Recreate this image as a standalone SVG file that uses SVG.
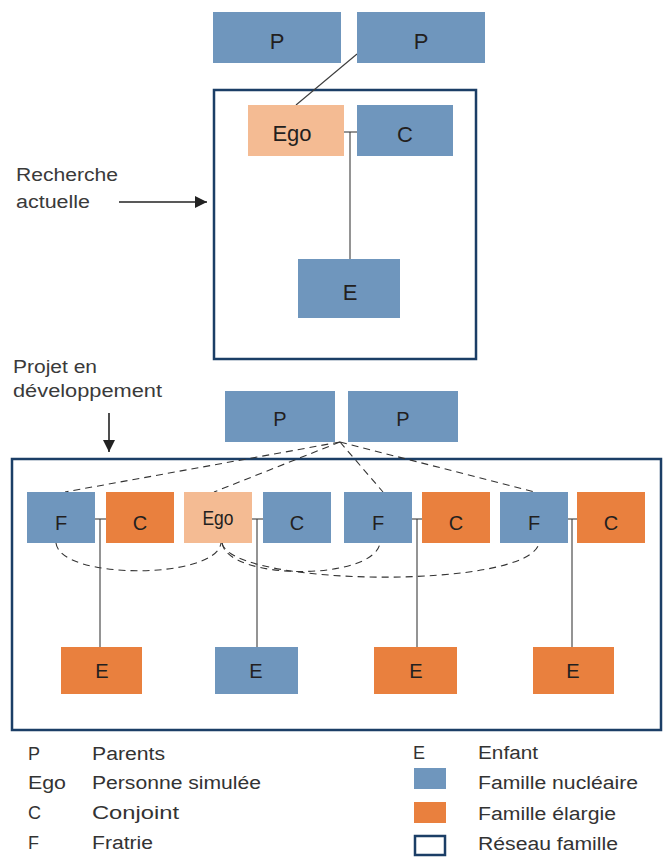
<svg xmlns="http://www.w3.org/2000/svg" width="667" height="857" viewBox="0 0 667 857">
  <style>
    .nuc { fill: #6f96bd; }
    .ext { fill: #e9803e; }
    .ego { fill: #f4bb93; }
    .frame { fill: none; stroke: #1b3e66; stroke-width: 2.5; }
    .lbl { font-family: "Liberation Sans", Arial, sans-serif; fill: #231f20; text-anchor: middle; }
    .big { font-size: 22px; }
    .mid { font-size: 20px; }
    .note { font-family: "Liberation Sans", Arial, sans-serif; font-size: 18px; fill: #3a3a3a; }
    .leg { font-family: "Liberation Sans", Arial, sans-serif; font-size: 18px; fill: #333333; }
    .link { fill: none; stroke: #3c3c3c; stroke-width: 1.1; }
    .dash { fill: none; stroke: #333333; stroke-width: 1.1; stroke-dasharray: 7 5; }
    .arrow { fill: none; stroke: #222222; stroke-width: 1.6; }
  </style>
  <defs>
    <marker id="head" viewBox="0 0 10 10" refX="10" refY="5" markerWidth="7.5" markerHeight="7.5" markerUnits="strokeWidth" orient="auto">
      <path d="M0,0 L10,5 L0,10 Z" fill="#222222"/>
    </marker>
  </defs>

  <!-- Upper scheme: current research -->
  <rect id="frame-current" class="frame" x="214" y="90" width="262" height="269"/>

  <g id="connectors-current">
    <line class="link" x1="357" y1="54" x2="296" y2="105"/>
    <line class="link" x1="344" y1="132" x2="357" y2="132"/>
    <line class="link" x1="350" y1="132" x2="350" y2="259"/>
  </g>

  <g id="p-top-1"><rect class="nuc" x="213" y="12" width="128" height="51"/><text class="lbl big" x="277" y="49">P</text></g>
  <g id="p-top-2"><rect class="nuc" x="357" y="12" width="128" height="51"/><text class="lbl big" x="421" y="49">P</text></g>
  <g id="ego-top"><rect class="ego" x="248" y="105" width="96" height="51"/><text class="lbl big" x="292" y="141">Ego</text></g>
  <g id="c-top"><rect class="nuc" x="357" y="105" width="96" height="51"/><text class="lbl big" x="405" y="142">C</text></g>
  <g id="e-top"><rect class="nuc" x="298" y="259" width="102" height="59"/><text class="lbl big" x="350" y="300">E</text></g>

  <g id="note-current">
    <text class="note" x="16" y="181" textLength="102" lengthAdjust="spacingAndGlyphs">Recherche</text>
    <text class="note" x="16" y="208" textLength="74" lengthAdjust="spacingAndGlyphs">actuelle</text>
    <line class="arrow" x1="119" y1="202" x2="207" y2="202" marker-end="url(#head)"/>
  </g>

  <!-- Lower scheme: project in development -->
  <rect id="frame-project" class="frame" x="12" y="459" width="649" height="271"/>

  <g id="note-project">
    <text class="note" x="13" y="373" textLength="84" lengthAdjust="spacingAndGlyphs">Projet en</text>
    <text class="note" x="13" y="397" textLength="149" lengthAdjust="spacingAndGlyphs">développement</text>
    <line class="arrow" x1="109" y1="413" x2="109" y2="452" marker-end="url(#head)"/>
  </g>

  <g id="connectors-project">
    <!-- sibling lines from the parents -->
    <line class="dash" x1="340" y1="442" x2="65" y2="492"/>
    <line class="dash" x1="340" y1="442" x2="214" y2="492"/>
    <line class="dash" x1="340" y1="442" x2="383" y2="492"/>
    <line class="dash" x1="340" y1="442" x2="535" y2="492"/>
    <!-- sibling arcs between Ego and the F nodes -->
    <path class="dash" d="M56,543 C60,580 216,580 221,543"/>
    <path class="dash" d="M222,543 C228,581 374,581 380,543"/>
    <path class="dash" d="M222,543 C232,587 530,590 539,543"/>
    <!-- couple links and children -->
    <line class="link" x1="95" y1="519" x2="106" y2="519"/>
    <line class="link" x1="100" y1="519" x2="100" y2="647"/>
    <line class="link" x1="252" y1="519" x2="263" y2="519"/>
    <line class="link" x1="257" y1="519" x2="257" y2="647"/>
    <line class="link" x1="412" y1="519" x2="422" y2="519"/>
    <line class="link" x1="417" y1="519" x2="417" y2="647"/>
    <line class="link" x1="568" y1="519" x2="577" y2="519"/>
    <line class="link" x1="572" y1="519" x2="572" y2="647"/>
  </g>

  <g id="p-bot-1"><rect class="nuc" x="225" y="391" width="110" height="51"/><text class="lbl mid" x="280" y="426">P</text></g>
  <g id="p-bot-2"><rect class="nuc" x="348" y="391" width="110" height="51"/><text class="lbl mid" x="403" y="426">P</text></g>

  <g id="f-1"><rect class="nuc" x="27" y="492" width="68" height="51"/><text class="lbl mid" x="61" y="530">F</text></g>
  <g id="c-1"><rect class="ext" x="106" y="492" width="68" height="51"/><text class="lbl mid" x="140" y="530">C</text></g>
  <g id="ego-bot"><rect class="ego" x="184" y="492" width="68" height="51"/><text class="lbl mid" x="218" y="525" textLength="31" lengthAdjust="spacingAndGlyphs">Ego</text></g>
  <g id="c-2"><rect class="nuc" x="263" y="492" width="68" height="51"/><text class="lbl mid" x="297" y="530">C</text></g>
  <g id="f-2"><rect class="nuc" x="344" y="492" width="68" height="51"/><text class="lbl mid" x="378" y="530">F</text></g>
  <g id="c-3"><rect class="ext" x="422" y="492" width="68" height="51"/><text class="lbl mid" x="456" y="530">C</text></g>
  <g id="f-3"><rect class="nuc" x="500" y="492" width="68" height="51"/><text class="lbl mid" x="534" y="530">F</text></g>
  <g id="c-4"><rect class="ext" x="577" y="492" width="68" height="51"/><text class="lbl mid" x="611" y="530">C</text></g>

  <g id="e-1"><rect class="ext" x="61" y="647" width="81" height="47"/><text class="lbl mid" x="102" y="678">E</text></g>
  <g id="e-2"><rect class="nuc" x="215" y="647" width="83" height="47"/><text class="lbl mid" x="256" y="678">E</text></g>
  <g id="e-3"><rect class="ext" x="374" y="647" width="83" height="47"/><text class="lbl mid" x="416" y="678">E</text></g>
  <g id="e-4"><rect class="ext" x="533" y="647" width="81" height="47"/><text class="lbl mid" x="573" y="678">E</text></g>

  <!-- Legend -->
  <g id="legend">
    <text class="leg" x="28" y="760">P</text>
    <text class="leg" x="92" y="760" textLength="73" lengthAdjust="spacingAndGlyphs">Parents</text>
    <text class="leg" x="28" y="789" textLength="38" lengthAdjust="spacingAndGlyphs">Ego</text>
    <text class="leg" x="92" y="789" textLength="169" lengthAdjust="spacingAndGlyphs">Personne simulée</text>
    <text class="leg" x="28" y="819">C</text>
    <text class="leg" x="92" y="819" textLength="87" lengthAdjust="spacingAndGlyphs">Conjoint</text>
    <text class="leg" x="28" y="849">F</text>
    <text class="leg" x="92" y="849" textLength="61" lengthAdjust="spacingAndGlyphs">Fratrie</text>

    <text class="leg" x="413" y="759">E</text>
    <text class="leg" x="478" y="759" textLength="60" lengthAdjust="spacingAndGlyphs">Enfant</text>
    <rect class="nuc" x="414" y="768" width="32" height="21"/>
    <text class="leg" x="478" y="789" textLength="160" lengthAdjust="spacingAndGlyphs">Famille nucléaire</text>
    <rect class="ext" x="414" y="802" width="32" height="21"/>
    <text class="leg" x="478" y="820" textLength="138" lengthAdjust="spacingAndGlyphs">Famille élargie</text>
    <rect class="frame" x="415" y="836" width="30" height="19" stroke-width="2.2"/>
    <text class="leg" x="478" y="850" textLength="140" lengthAdjust="spacingAndGlyphs">Réseau famille</text>
  </g>
</svg>
